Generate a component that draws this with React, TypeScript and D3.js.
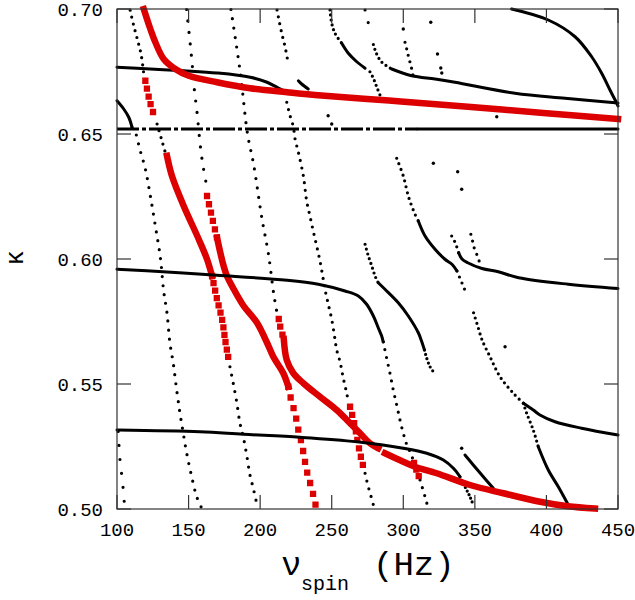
import React from 'react';
import * as d3 from 'd3';

type P = [number, number];

const xTicks = [100, 150, 200, 250, 300, 350, 400, 450];
const yTicks = [0.5, 0.55, 0.6, 0.65, 0.7];

// ---- red curves ----
const R1: P[] = [[118.7,0.700],[123.3,0.692],[126.8,0.6867],[132.6,0.680],[140.7,0.676],[150.1,0.6733],[169.9,0.6707],[193.1,0.6683],[218.8,0.6667],[238.3,0.6656],[290,0.6634],[343,0.661],[400,0.6583],[450,0.656]];
const R2a: P[] = [[119.8,0.6713],[122.8,0.6633],[125.6,0.658],[126.8,0.656]];
const R2b: P[] = [[134.9,0.6413],[138.4,0.6332],[146.6,0.6212],[157.1,0.6079],[162.9,0.5999],[166.4,0.5932]];
const R2c: P[] = [[166.4,0.5932],[169.9,0.5839],[173.4,0.5759],[175.7,0.5672],[177.8,0.5604]];
const RBa: P[] = [[162.9,0.6252],[165.9,0.6179],[168.7,0.6112],[169.9,0.6085]];
const RBb: P[] = [[169.9,0.6085],[172.2,0.6025],[174.5,0.5972],[176.8,0.5932],[181.5,0.588],[188.5,0.5812],[197.8,0.5745],[204.8,0.5665],[209.2,0.5609],[216.2,0.5543],[219.7,0.5489]];
const RBc: P[] = [[219.7,0.5489],[222.0,0.5429],[224.4,0.5383],[226.7,0.5316],[229.0,0.5263],[232.0,0.5169],[233.6,0.5129],[236.0,0.5083],[239.0,0.5009]];
const RCa: P[] = [[213,0.576],[213.9,0.5732],[216.5,0.568]];
const RCb: P[] = [[216.5,0.568],[218.6,0.5596],[223.2,0.5543],[230.2,0.5503],[241.8,0.5449],[253.5,0.5396],[262.8,0.5343],[269.8,0.5303],[276.7,0.5263],[282.5,0.5243]];
const RD: P[] = [[262.8,0.5409],[264,0.5383],[265.1,0.5356],[266.3,0.5329],[267.5,0.5289],[269.3,0.5236],[270.9,0.5196],[272.1,0.5169]];
const RE: P[] = [[287.2,0.5223],[300,0.5189],[308.2,0.5169],[323.3,0.5143],[346.6,0.5096],[369.9,0.5063],[395.5,0.5029],[415,0.5011],[433.9,0.5002]];
const RF: P[] = [[307.5,0.5184],[309.2,0.5156],[311,0.5128]];

// ---- black curves ----
const B1: P[] = [[100,0.6767],[123.3,0.676],[146.6,0.6753],[169.9,0.6744],[193.1,0.6727],[204.8,0.6707],[211.8,0.6687],[216.5,0.6673]];
const B2a: P[] = [[100,0.652],[310,0.652]];
const B2b: P[] = [[310,0.652],[450,0.652]];
const B3: P[] = [[100,0.6633],[104.7,0.66],[108.2,0.6567],[110.5,0.6527]];
const B4: P[] = [[100,0.5959],[134.9,0.5948],[169.9,0.5935],[218.8,0.5915],[240.6,0.5899],[259.3,0.5872],[268.6,0.5852],[274.4,0.5819],[279.1,0.5772],[282.5,0.5725],[284.9,0.5692],[286,0.5668]];
const B5a: P[] = [[100,0.5316],[158,0.5309],[188.2,0.5299],[227.8,0.5287],[267.5,0.5269],[300,0.5243],[316.4,0.5223],[328,0.5196],[335,0.5163],[339.6,0.5129]];
const B5b: P[] = [[339.6,0.5129],[343.1,0.5089],[346.6,0.5049],[348.9,0.5016]];
const D0: P[] = [[100.8,0.531],[102.1,0.5196],[103.3,0.5136],[104.4,0.5076],[105.1,0.5025]];
const D1: P[] = [[109.2,0.6995],[111.7,0.6933],[114.5,0.6873],[116.8,0.682],[118.7,0.674]];
const D2: P[] = [[110.5,0.6527],[112.8,0.6507],[115.9,0.644],[119.8,0.636],[123.3,0.6252],[126.8,0.6132],[130.3,0.6005],[132.6,0.5872],[134.9,0.5785],[137,0.5663],[139.3,0.5583],[141.7,0.5476],[144,0.5383],[146.3,0.5303],[148.7,0.5223],[152.2,0.5129],[155.7,0.5049],[159.2,0.5003]];
const R2gap: P[] = [[128.0,0.654],[131.4,0.6473],[133.7,0.6427]];
const R2d: P[] = [[178.9,0.5569],[181.2,0.5503],[183.6,0.5429],[185.9,0.5343],[188.2,0.5289],[190.6,0.5216],[192.9,0.5136],[195.2,0.5083],[197.6,0.5023],[198.5,0.5003]];
const D3: P[] = [[148.6,0.6998],[150.8,0.688],[152.4,0.6787],[154,0.668],[155.9,0.6587],[158.2,0.6453],[160.1,0.6373],[162.9,0.6285]];
const D4: P[] = [[179.6,0.6998],[186.1,0.6747],[191.2,0.65],[195.4,0.638],[201.3,0.616],[205.8,0.602],[209.5,0.586],[211.8,0.5784]];
const D5a: P[] = [[211.8,0.6996],[212.7,0.6969],[215.1,0.6903],[217.4,0.6849],[219.7,0.678]];
const E8: P[] = [[226.7,0.6713],[229,0.67],[233.6,0.668]];
const D5b: P[] = [[218.6,0.6627],[219.7,0.66],[220.9,0.6573],[223.2,0.6529],[224.4,0.648],[226.7,0.6427],[230.2,0.6332],[232.5,0.6232],[234.8,0.6172],[237.1,0.6112],[239.5,0.6052],[241.8,0.5992],[243.7,0.5932],[245.3,0.5879],[247.6,0.5819],[250,0.5759],[252.3,0.5679],[253.5,0.5636],[255.8,0.5589],[258.1,0.5523],[260.5,0.5463],[261.6,0.5429]];
const D5c: P[] = [[273.3,0.5143],[275.4,0.5092],[277.4,0.5052],[279.5,0.5008]];
const D6a: P[] = [[286,0.5669],[288.4,0.5603],[290.7,0.5543],[293,0.5476],[295.4,0.5416],[297.7,0.5356],[300,0.5303],[302.6,0.5255],[305.5,0.522],[307.5,0.5184]];
const D6b: P[] = [[311.7,0.5116],[315.2,0.5049],[316.8,0.5016]];
const E1a: P[] = [[248.8,0.6996],[250,0.6943],[252.3,0.6903],[257,0.6863]];
const E1b: P[] = [[257,0.6863],[261.6,0.6823],[267.5,0.6789],[273.3,0.6763]];
const E1c: P[] = [[276.7,0.6749],[279.1,0.6723],[281.4,0.6689],[283.7,0.6656]];
const E4: P[] = [[273.3,0.6996],[275.6,0.6943]];
const E2a: P[] = [[279.1,0.6858],[281.4,0.682],[284.9,0.6788],[291.9,0.676]];
const E2b: P[] = [[291.9,0.676],[305.9,0.6733],[322.2,0.672],[336.1,0.6707],[378,0.6663],[413,0.6643],[450,0.6624]];
const E3: P[] = [[375.7,0.7],[401.3,0.6956],[420,0.6889],[431.6,0.6809],[438.6,0.6743],[444.4,0.6676],[449.1,0.6623],[450,0.6612]];
const E5: P[] = [[301.2,0.6867],[302.4,0.684],[303.5,0.6813],[304.7,0.6787],[305.9,0.676],[307,0.6727]];
const D8a: P[] = [[295.4,0.6403],[300,0.6332],[303.5,0.6252],[305.9,0.6212],[308.2,0.6179],[310.5,0.6152]];
const D8b: P[] = [[310.5,0.6152],[315.2,0.6092],[322.2,0.6039],[329.1,0.5999],[334,0.5979],[337.5,0.5952]];
const D8c: P[] = [[337.5,0.5952],[341,0.5904],[343.3,0.5872]];
const D9a1: P[] = [[333.8,0.6092],[336.3,0.6065],[338.7,0.6025]];
const D9a2: P[] = [[338.7,0.6025],[341,0.6],[345,0.5985],[355,0.5962],[366.4,0.5949],[380.6,0.5925],[415.3,0.5899],[450,0.5882]];
const D9b: P[] = [[347.2,0.6099],[348.4,0.6072],[349.5,0.6045],[351.8,0.6012],[354.1,0.5972]];
const D10a1: P[] = [[349.1,0.5785],[352.1,0.573],[354.6,0.5683],[356,0.5663],[360.6,0.5609],[367.6,0.5529],[376.9,0.5463],[383.9,0.5423]];
const D10a2: P[] = [[383.9,0.5423],[390.8,0.5396],[395.5,0.5376],[406,0.5349],[424.6,0.5323],[450,0.5296]];
const D10b1: P[] = [[383.9,0.5423],[386.2,0.5383],[390.8,0.5316],[394.3,0.5249]];
const D10b2: P[] = [[394.3,0.5249],[401.3,0.5156],[408.3,0.5089],[415.3,0.5016]];
const D11a: P[] = [[273.3,0.6059],[275.6,0.6012],[278,0.5972],[280.3,0.5932],[282.5,0.5905]];
const D11b: P[] = [[282.5,0.5905],[287.2,0.5879],[296.5,0.5825],[303.5,0.5772],[310.5,0.5705],[312.5,0.5676],[314.8,0.5636]];
const D11c: P[] = [[314.8,0.5636],[316.4,0.5603],[318.7,0.5569],[321,0.5549]];
const E10: P[] = [[343.1,0.5216],[348.9,0.5176],[355.9,0.5129],[362.9,0.5083]];
const isolated: P[] = [[300,0.692],[319.2,0.6947],[323.9,0.682],[326.2,0.6764],[326.9,0.6744],[247.5,0.6573],[250,0.654],[365.3,0.6569],[321,0.6383],[338,0.6349],[340.8,0.6279],[371.1,0.5649],[340.8,0.5243]];

const blackDotSeries: [P[], number][] = [
  [D0, 14], [D1, 7], [D2, 9], [R2gap, 7], [R2d, 8.5], [D3, 11.5], [D4, 9.5], [D5a, 7], [D5b, 7.5], [D5c, 8],
  [D6a, 8], [D6b, 8], [E1a, 5], [E1c, 5], [E4, 13], [E2a, 5], [E5, 6.7], [D8a, 6], [D8c, 6.5], [D9a1, 6],
  [D9b, 7], [D10a1, 5.5], [D10b1, 5], [D11a, 5], [D11c, 4.5], [B5b, 4],
];
const blackLineSeries: P[][] = [B1, B2b, B3, E8, E1b, E2b, E3, D8b, D9a2, D10a2, D10b2, D11b, E10];
const redLineSeries: P[][] = [R1, R2b, RBb, RCb, RE];
const redSquareSeries: [P[], number][] = [[R2a, 8], [R2c, 7.5], [RBa, 8.5], [RBc, 11], [RCa, 8], [RD, 8.5], [RF, 7]];
const topLineSeries: P[][] = [B4, B5a];

const FONT = "'Liberation Mono', 'DejaVu Sans Mono', monospace";
const RED = '#dd0000';

export default function App() {
  const W = 635, H = 600;
  const L = 117, R = 618, T = 9, B = 509;
  const x = d3.scaleLinear().domain([100, 450]).range([L, R]);
  const y = d3.scaleLinear().domain([0.5, 0.7]).range([B, T]);
  const line = d3.line<P>().x(d => x(d[0])).y(d => y(d[1])).curve(d3.curveCatmullRom.alpha(0.5));
  const straight = d3.line<P>().x(d => x(d[0])).y(d => y(d[1]));
  const tickLen = 14;
  const axisColor = '#333';

  return (
    <svg width={W} height={H} style={{ position: 'absolute', left: 0, top: 0, background: '#fff' }}>
      {/* black dotted series */}
      {blackDotSeries.map(([d, s], i) => (
        <path key={'bd' + i} d={line(d) || ''} fill="none" stroke="#000" strokeWidth={3.2}
          strokeLinecap="round" strokeDasharray={`0 ${s}`} />
      ))}
      <path d={straight(B2a) || ''} fill="none" stroke="#000" strokeWidth={2.8} strokeDasharray="22 3 4 3" />
      {blackLineSeries.map((d, i) => (
        <path key={'bl' + i} d={line(d) || ''} fill="none" stroke="#000" strokeWidth={3} strokeLinecap="round" />
      ))}
      {isolated.map((d, i) => (
        <circle key={'iso' + i} cx={x(d[0])} cy={y(d[1])} r={1.7} fill="#000" />
      ))}
      {/* red */}
      {redLineSeries.map((d, i) => (
        <path key={'rl' + i} d={line(d) || ''} fill="none" stroke={RED} strokeWidth={6.5} strokeLinecap="square" />
      ))}
      {redSquareSeries.map(([d, s], i) => (
        <path key={'rs' + i} d={line(d) || ''} fill="none" stroke={RED} strokeWidth={6.3}
          strokeLinecap="square" strokeDasharray={`0 ${s}`} />
      ))}
      {topLineSeries.map((d, i) => (
        <path key={'tl' + i} d={line(d) || ''} fill="none" stroke="#000" strokeWidth={3} strokeLinecap="round" />
      ))}

      {/* frame */}
      <rect x={L} y={T} width={R - L} height={B - T} fill="none" stroke={axisColor} strokeWidth={1.2} />
      {xTicks.map(v => (
        <g key={'xt' + v}>
          <line x1={x(v)} x2={x(v)} y1={B} y2={B - tickLen} stroke={axisColor} strokeWidth={1.2} />
          <line x1={x(v)} x2={x(v)} y1={T} y2={T + tickLen} stroke={axisColor} strokeWidth={1.2} />
          <text x={x(v)} y={536} textAnchor="middle" fontFamily={FONT} fontSize={19} fill="#000">{v}</text>
        </g>
      ))}
      {yTicks.map(v => (
        <g key={'yt' + v}>
          <line x1={L} x2={L + tickLen} y1={y(v)} y2={y(v)} stroke={axisColor} strokeWidth={1.2} />
          <line x1={R} x2={R - tickLen} y1={y(v)} y2={y(v)} stroke={axisColor} strokeWidth={1.2} />
          <text x={103} y={y(v) + 6.5} textAnchor="end" fontFamily={FONT} fontSize={19} fill="#000">{v.toFixed(2)}</text>
        </g>
      ))}
      {/* axis titles */}
      <text transform="translate(23,258) rotate(-90)" textAnchor="middle" fontFamily={FONT} fontSize={26} fill="#000">κ</text>
      <text x={281} y={575} fontFamily={FONT} fontSize={34} fill="#000">ν</text>
      <text x={301} y={590} fontFamily={FONT} fontSize={20} fill="#000">spin</text>
      <text x={373} y={575} fontFamily={FONT} fontSize={34} fill="#000">(Hz)</text>
    </svg>
  );
}
